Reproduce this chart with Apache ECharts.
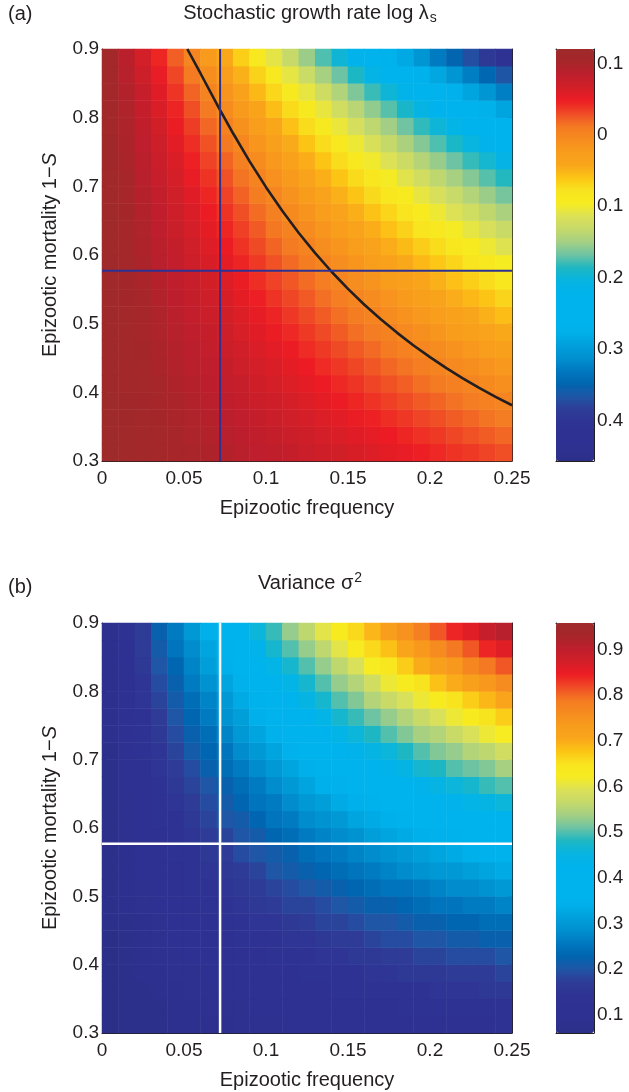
<!DOCTYPE html>
<html><head><meta charset="utf-8">
<script src="https://cdn.jsdelivr.net/npm/echarts@6/dist/echarts.min.js"></script>
<style>html,body{margin:0;padding:0;background:#fff}#c{width:629px;height:1092px}</style>
</head><body><div id="c"></div>
<script>
// ---- data ----
const freq = [0.005,0.015,0.025,0.035,0.045,0.055,0.065,0.075,0.085,0.095,0.105,0.115,0.125,0.135,0.145,0.155,0.165,0.175,0.185,0.195,0.205,0.215,0.225,0.235,0.245];
const mort = [0.3125,0.3375,0.3625,0.3875,0.4125,0.4375,0.4625,0.4875,0.5125,0.5375,0.5625,0.5875,0.6125,0.6375,0.6625,0.6875,0.7125,0.7375,0.7625,0.7875,0.8125,0.8375,0.8625,0.8875];
// stochastic growth rate log lambda_s, rows = mortality (bottom to top), cols = frequency
const growthRows = [
[.118,.114,.111,.107,.103,.099,.096,.092,.088,.084,.081,.077,.073,.069,.066,.062,.058,.054,.051,.047,.043,.039,.036,.032,.028],
[.118,.114,.110,.106,.101,.097,.093,.089,.085,.081,.077,.073,.069,.064,.060,.056,.052,.048,.044,.040,.036,.031,.027,.023,.019],
[.118,.113,.109,.104,.100,.095,.091,.086,.082,.077,.073,.068,.064,.059,.055,.050,.046,.041,.037,.032,.028,.023,.019,.014,.010],
[.118,.113,.108,.103,.098,.093,.088,.083,.078,.073,.069,.064,.059,.054,.049,.044,.039,.034,.029,.024,.020,.015,.010,.005,.000],
[.117,.112,.107,.101,.096,.091,.085,.080,.075,.069,.064,.059,.054,.048,.043,.038,.032,.027,.022,.016,.011,.006,.000,-.005,-.010],
[.117,.111,.106,.100,.094,.088,.083,.077,.071,.065,.060,.054,.048,.042,.037,.031,.025,.019,.014,.008,.002,-.004,-.009,-.015,-.021],
[.117,.111,.104,.098,.092,.086,.080,.073,.067,.061,.055,.049,.042,.036,.030,.024,.018,.011,.005,-.001,-.007,-.013,-.020,-.026,-.032],
[.117,.110,.103,.097,.090,.083,.077,.070,.063,.056,.050,.043,.036,.030,.023,.016,.010,.003,-.004,-.010,-.017,-.024,-.030,-.037,-.044],
[.116,.109,.102,.095,.088,.080,.073,.066,.059,.052,.045,.037,.030,.023,.016,.009,.001,-.006,-.013,-.020,-.027,-.034,-.042,-.049,-.056],
[.116,.108,.101,.093,.085,.078,.070,.062,.054,.047,.039,.031,.024,.016,.008,.000,-.007,-.015,-.023,-.030,-.038,-.046,-.053,-.061,-.069],
[.116,.108,.099,.091,.083,.075,.066,.058,.050,.041,.033,.025,.017,.008,.000,-.008,-.016,-.025,-.033,-.041,-.049,-.058,-.066,-.074,-.083],
[.116,.107,.098,.089,.080,.071,.062,.054,.045,.036,.027,.018,.009,.000,-.008,-.017,-.026,-.035,-.044,-.053,-.062,-.070,-.079,-.088,-.097],
[.115,.106,.096,.087,.077,.068,.058,.049,.039,.030,.020,.011,.002,-.008,-.017,-.027,-.036,-.046,-.055,-.065,-.074,-.084,-.093,-.103,-.112],
[.115,.105,.095,.084,.074,.064,.054,.044,.034,.024,.013,.003,-.007,-.017,-.027,-.037,-.047,-.058,-.068,-.078,-.088,-.098,-.108,-.118,-.129],
[.115,.104,.093,.082,.071,.060,.049,.039,.028,.017,.006,-.005,-.016,-.027,-.037,-.048,-.059,-.070,-.081,-.092,-.103,-.114,-.124,-.135,-.146],
[.114,.103,.091,.079,.068,.056,.044,.033,.021,.009,-.002,-.014,-.025,-.037,-.049,-.060,-.072,-.084,-.095,-.107,-.118,-.130,-.142,-.153,-.165],
[.114,.101,.089,.076,.064,.051,.039,.027,.014,.002,-.011,-.023,-.036,-.048,-.061,-.073,-.086,-.098,-.111,-.123,-.136,-.148,-.160,-.173,-.185],
[.113,.100,.087,.073,.060,.046,.033,.020,.006,-.007,-.020,-.034,-.047,-.061,-.074,-.087,-.101,-.114,-.127,-.141,-.154,-.168,-.181,-.194,-.208],
[.113,.098,.084,.070,.055,.041,.027,.012,-.002,-.017,-.031,-.045,-.060,-.074,-.088,-.103,-.117,-.132,-.146,-.160,-.175,-.189,-.203,-.218,-.232],
[.112,.097,.081,.066,.050,.035,.019,.004,-.012,-.027,-.043,-.058,-.074,-.089,-.105,-.120,-.136,-.151,-.167,-.182,-.198,-.213,-.229,-.244,-.259],
[.112,.095,.078,.061,.045,.028,.011,-.006,-.022,-.039,-.056,-.073,-.089,-.106,-.123,-.139,-.156,-.173,-.190,-.206,-.223,-.240,-.257,-.273,-.290],
[.111,.093,.075,.056,.038,.020,.002,-.016,-.034,-.053,-.071,-.089,-.107,-.125,-.143,-.162,-.180,-.198,-.216,-.234,-.253,-.271,-.289,-.307,-.325],
[.110,.090,.070,.051,.031,.011,-.009,-.029,-.049,-.068,-.088,-.108,-.128,-.148,-.168,-.188,-.207,-.227,-.247,-.267,-.287,-.307,-.326,-.346,-.366],
[.109,.087,.065,.044,.022,.000,-.022,-.044,-.066,-.088,-.109,-.131,-.153,-.175,-.197,-.219,-.241,-.262,-.284,-.306,-.328,-.350,-.372,-.393,-.415]
];
// variance sigma^2, same layout
const varianceRows = [
[.06,.07,.07,.07,.08,.08,.08,.08,.09,.09,.09,.10,.10,.10,.10,.11,.11,.11,.11,.12,.12,.12,.12,.12,.13],
[.06,.07,.07,.07,.08,.08,.09,.09,.09,.10,.10,.10,.11,.11,.11,.12,.12,.12,.13,.13,.13,.13,.14,.14,.14],
[.06,.07,.07,.08,.08,.09,.09,.10,.10,.11,.11,.11,.12,.12,.13,.13,.13,.14,.14,.14,.15,.15,.15,.16,.16],
[.06,.07,.08,.08,.09,.09,.10,.10,.11,.11,.12,.12,.13,.13,.14,.14,.15,.15,.16,.16,.16,.17,.17,.17,.18],
[.06,.07,.08,.09,.09,.10,.11,.11,.12,.12,.13,.14,.14,.15,.15,.16,.16,.17,.17,.18,.18,.19,.19,.19,.20],
[.06,.07,.08,.09,.10,.11,.11,.12,.13,.13,.14,.15,.15,.16,.17,.17,.18,.19,.19,.20,.20,.21,.21,.22,.22],
[.07,.07,.08,.09,.10,.11,.12,.13,.14,.15,.15,.16,.17,.18,.18,.19,.20,.20,.21,.22,.22,.23,.23,.24,.24],
[.07,.08,.09,.10,.11,.12,.13,.14,.15,.16,.17,.18,.18,.19,.20,.21,.22,.22,.23,.24,.25,.25,.26,.26,.27],
[.07,.08,.09,.10,.12,.13,.14,.15,.16,.17,.18,.19,.20,.21,.22,.23,.24,.25,.25,.26,.27,.28,.28,.29,.30],
[.07,.08,.10,.11,.12,.14,.15,.16,.17,.18,.20,.21,.22,.23,.24,.25,.26,.27,.28,.29,.30,.30,.31,.32,.33],
[.07,.08,.10,.11,.13,.14,.16,.17,.19,.20,.21,.22,.24,.25,.26,.27,.28,.29,.30,.31,.32,.33,.34,.35,.36],
[.07,.09,.10,.12,.14,.15,.17,.18,.20,.21,.23,.24,.26,.27,.28,.29,.31,.32,.33,.34,.35,.36,.37,.38,.39],
[.07,.09,.11,.13,.14,.16,.18,.20,.21,.23,.25,.26,.28,.29,.30,.32,.33,.34,.36,.37,.38,.39,.40,.41,.42],
[.07,.09,.11,.13,.15,.17,.19,.21,.23,.25,.26,.28,.30,.31,.33,.34,.36,.37,.39,.40,.41,.43,.44,.45,.46],
[.07,.10,.12,.14,.16,.18,.20,.22,.24,.26,.28,.30,.32,.34,.35,.37,.39,.40,.42,.43,.45,.46,.47,.49,.50],
[.07,.10,.12,.15,.17,.19,.22,.24,.26,.28,.30,.32,.34,.36,.38,.40,.42,.43,.45,.47,.48,.50,.51,.52,.54],
[.07,.10,.13,.15,.18,.21,.23,.25,.28,.30,.32,.35,.37,.39,.41,.43,.45,.46,.48,.50,.52,.53,.55,.56,.58],
[.08,.10,.13,.16,.19,.22,.24,.27,.30,.32,.35,.37,.39,.41,.44,.46,.48,.50,.52,.54,.55,.57,.59,.61,.62],
[.08,.11,.14,.17,.20,.23,.26,.29,.31,.34,.37,.39,.42,.44,.47,.49,.51,.53,.55,.57,.59,.61,.63,.65,.67],
[.08,.11,.15,.18,.21,.24,.27,.30,.33,.36,.39,.42,.45,.47,.50,.52,.55,.57,.59,.61,.63,.65,.67,.69,.71],
[.08,.12,.15,.19,.22,.26,.29,.32,.35,.38,.42,.44,.47,.50,.53,.55,.58,.61,.63,.65,.68,.70,.72,.74,.76],
[.08,.12,.16,.20,.23,.27,.31,.34,.37,.41,.44,.47,.50,.53,.56,.59,.62,.64,.67,.70,.72,.74,.77,.79,.81],
[.08,.12,.17,.21,.25,.28,.32,.36,.40,.43,.47,.50,.53,.56,.60,.63,.66,.68,.71,.74,.76,.79,.81,.84,.86],
[.08,.13,.17,.22,.26,.30,.34,.38,.42,.46,.49,.53,.56,.60,.63,.66,.69,.73,.75,.78,.81,.84,.86,.89,.91]
];
// reference lines (estimated frequency / mortality)
const markFreq = 0.072;
const markMort = 0.577;
// zero contour of log lambda_s (black curve)
const contourFreq = [0.052,0.06,0.072,0.08,0.09,0.10,0.11,0.12,0.13,0.14,0.15,0.16,0.17,0.18,0.19,0.20,0.21,0.22,0.23,0.24,0.25];
const contourMort = [0.9,0.8647,0.8111,0.7769,0.7364,0.6988,0.6641,0.6321,0.6027,0.5756,0.5507,0.5276,0.5063,0.4866,0.4682,0.4512,0.4353,0.4204,0.4065,0.3935,0.3812];
// colour scale ranges and colour-bar ticks
const growthRange = [-0.4565, 0.12];
const varianceRange = [0.06, 0.958];
const growthCbTicks = [0.1, 0, -0.1, -0.2, -0.3, -0.4];
const growthCbLabels = ['0.1', '0', '0.1', '0.2', '0.3', '0.4'];
const varianceCbTicks = [0.1, 0.2, 0.3, 0.4, 0.5, 0.6, 0.7, 0.8, 0.9];
const varianceCbLabels = ['0.1', '0.2', '0.3', '0.4', '0.5', '0.6', '0.7', '0.8', '0.9'];
const xTickStep = 0.05, yTickStep = 0.1;

// ---- styling ----
const FONT = "'Liberation Sans', Arial, Helvetica, sans-serif";
const INK = '#231f20';
const palette = ['#2c2f88','#2e3190','#2e3192','#2e3393','#2e3c97','#1f56a5','#0065b0','#0078c0','#0090d0','#00a0db',
  '#00b0ea','#00b3ec','#00b3ec','#00b3ec','#06b4e2','#1eb7c2','#6cc3a3','#a4cf84','#c5d96a','#dce157','#f7ec1f',
  '#f8e41f','#fcc415','#f9a51b','#f89c1c','#f68b1f','#f47a22','#ef4a26','#ed1c24','#d11f28','#be1e2d','#a62629','#9e2a2b'];

const chart = echarts.init(document.getElementById('c'), null, {renderer: 'canvas'});
const grid = [], xAxis = [], yAxis = [], series = [], visualMap = [];
const lineStyle = {color: INK, width: 1};
const tickStyle = {color: INK, fontSize: 19, fontFamily: FONT};
const nameStyle = {color: INK, fontSize: 20, fontFamily: FONT};

function addPanel(cfg) {
  const g = grid.length;
  grid.push({left: 102, top: cfg.top, width: 410, height: cfg.height});
  const xi = xAxis.length, yi = yAxis.length;
  xAxis.push({type: 'category', gridIndex: g, data: freq, show: false});
  yAxis.push({type: 'category', gridIndex: g, data: mort, show: false});
  const valX = (pos, labels) => ({
    type: 'value', gridIndex: g, position: pos, min: 0, max: 0.25, interval: xTickStep,
    axisLine: {show: true, onZero: false, lineStyle},
    axisTick: {show: true, inside: true, length: 4, lineStyle},
    axisLabel: {show: labels, margin: 8, ...tickStyle},
    splitLine: {show: false},
    name: labels ? 'Epizootic frequency' : '', nameLocation: 'middle', nameGap: 37,
    nameTextStyle: nameStyle
  });
  const valY = (pos, labels) => ({
    type: 'value', gridIndex: g, position: pos, min: 0.3, max: 0.9, interval: yTickStep,
    axisLine: {show: true, onZero: false, lineStyle},
    axisTick: {show: true, inside: true, length: 4, lineStyle},
    axisLabel: {show: labels, margin: 3, ...tickStyle},
    splitLine: {show: false},
    name: labels ? '{n|Epizootic mortality 1\u2212}{i|S}' : '', nameLocation: 'middle', nameGap: 42, nameRotate: 90,
    nameTextStyle: {...nameStyle, rich: {n: {...nameStyle}, i: {...nameStyle, fontStyle: 'italic'}}}
  });
  xAxis.push(valX('bottom', true), valX('top', false));
  yAxis.push(valY('left', true), valY('right', false));
  const cells = [];
  cfg.rows.forEach((row, j) => row.forEach((v, i) => cells.push([i, j, v])));
  const hs = series.length;
  series.push({type: 'heatmap', xAxisIndex: xi, yAxisIndex: yi, data: cells,
    itemStyle: {borderWidth: 0}, emphasis: {disabled: true}, silent: true, progressive: 0});
  const lineSeries = (data, color, width) => ({type: 'line', xAxisIndex: xi + 1, yAxisIndex: yi + 1,
    data, symbol: 'none', smooth: false, silent: true, lineStyle: {color, width}, z: 5});
  if (cfg.curve) series.push(lineSeries(cfg.curve, INK, 2.6));
  series.push(lineSeries([[markFreq, 0.3], [markFreq, 0.9]], cfg.markColor, cfg.markWidth));
  series.push(lineSeries([[0, markMort], [0.25, markMort]], cfg.markColor, cfg.markWidth));

  // colour bar
  const cg = grid.length;
  grid.push({left: 556, top: cfg.top, width: 38, height: cfg.height});
  const cbX = (pos) => ({type: 'category', gridIndex: cg, data: [''], position: pos,
    axisLine: {show: true, onZero: false, lineStyle}, axisTick: {show: false}, axisLabel: {show: false}});
  xAxis.push(cbX('bottom'), cbX('top'));
  const cbY = (pos, labels) => ({type: 'value', gridIndex: cg, position: pos, min: cfg.range[0], max: cfg.range[1],
    axisLine: {show: true, onZero: false, lineStyle},
    axisTick: {show: true, inside: true, length: 4, lineStyle, customValues: cfg.cbTicks},
    axisLabel: {show: labels, margin: 3, ...tickStyle, customValues: cfg.cbTicks,
      formatter: v => { const k = cfg.cbTicks.findIndex(t => Math.abs(t - v) < 1e-9); return k >= 0 ? cfg.cbLabels[k] : ''; }},
    splitLine: {show: false}});
  yAxis.push(cbY('left', false), cbY('right', true));
  visualMap.push({type: 'continuous', seriesIndex: hs, min: cfg.range[0], max: cfg.range[1],
    inRange: {color: palette}, left: 556, top: cfg.top, itemWidth: 38, itemHeight: cfg.height,
    calculable: false, hoverLink: false, padding: 0, text: null, orient: 'vertical'});
}

addPanel({top: 49, height: 412, rows: growthRows, range: growthRange, cbTicks: growthCbTicks, cbLabels: growthCbLabels,
  curve: contourFreq.map((f, k) => [f, contourMort[k]]), markColor: '#2e3192', markWidth: 2});
addPanel({top: 623, height: 410, rows: varianceRows, range: varianceRange, cbTicks: varianceCbTicks, cbLabels: varianceCbLabels,
  markColor: '#ffffff', markWidth: 2.5});

const titleStyle = {color: INK, fontSize: 20, fontWeight: 'normal', fontFamily: FONT};
const title = [
  {text: '(a)', left: 8, top: 4, padding: 0, textStyle: titleStyle},
  {text: '{m|Stochastic growth rate log \u03bb}{s|s}', left: 310, textAlign: 'center', top: 3, padding: 0,
    textStyle: {...titleStyle, rich: {m: {...titleStyle, lineHeight: 22, verticalAlign: 'top'},
      s: {...titleStyle, fontSize: 14, lineHeight: 14, verticalAlign: 'bottom', padding: [12, 0, 0, 1]}}}},
  {text: '(b)', left: 8, top: 577, padding: 0, textStyle: titleStyle},
  {text: '{m|Variance \u03c3}{p|2}', left: 310, textAlign: 'center', top: 571, padding: 0,
    textStyle: {...titleStyle, rich: {m: {...titleStyle, lineHeight: 22, verticalAlign: 'bottom'},
      p: {...titleStyle, fontSize: 14, lineHeight: 14, verticalAlign: 'top', padding: [0, 0, 10, 1]}}}}
];

chart.setOption({animation: false, backgroundColor: '#ffffff', title, grid, xAxis, yAxis, series, visualMap});
</script></body></html>
